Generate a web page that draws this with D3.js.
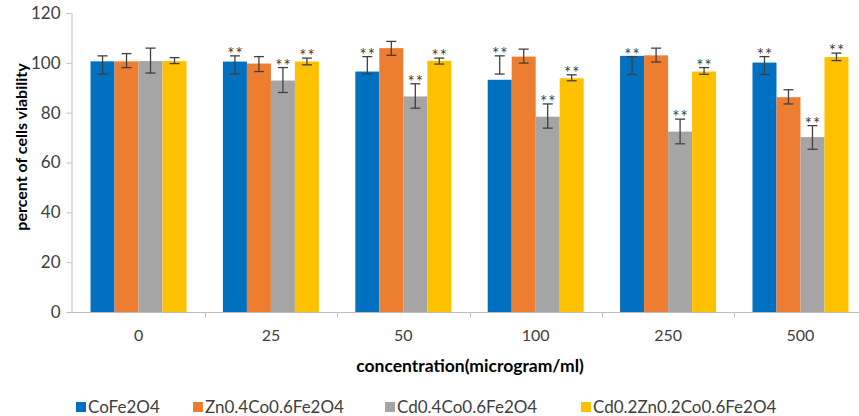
<!DOCTYPE html>
<html>
<head>
<meta charset="utf-8">
<script src="https://cdn.jsdelivr.net/npm/d3@7"></script>
<style>
  html, body { margin: 0; padding: 0; background: #fff; }
  svg { display: block; font-family: Lato, "Open Sans", sans-serif; }
</style>
</head>
<body>
<svg id="chart" width="859" height="416"></svg>
<script>
// ---- data ----
const categories = ["0", "25", "50", "100", "250", "500"];
const seriesNames = ["CoFe2O4", "Zn0.4Co0.6Fe2O4", "Cd0.4Co0.6Fe2O4", "Cd0.2Zn0.2Co0.6Fe2O4"];
const seriesColors = ["#0070C0", "#ED7D31", "#A5A5A5", "#FFC000"];

const coFeValues   = [100.6, 100.5, 96.5, 93.2, 102.8, 100.1];
const znValues     = [100.6, 99.7, 105.9, 102.5, 103.0, 86.2];
const cdValues     = [100.7, 92.9, 86.5, 78.4, 72.4, 70.2];
const cdZnValues   = [100.7, 100.5, 100.8, 93.8, 96.5, 102.3];

// error bar ends (upper / lower)
const coFeErrHigh  = [102.8, 102.8, 102.5, 102.8, 102.5, 102.5];
const coFeErrLow   = [95.5, 95.5, 95.5, 95.5, 95.3, 95.3];
const znErrHigh    = [103.7, 102.5, 108.6, 105.5, 105.9, 89.2];
const znErrLow     = [98.1, 96.5, 103.0, 99.9, 100.3, 83.5];
const cdErrHigh    = [105.9, 98.1, 91.6, 83.5, 77.4, 74.8];
const cdErrLow     = [95.9, 88.1, 81.8, 73.8, 67.5, 65.3];
const cdZnErrHigh  = [102.1, 101.9, 101.9, 95.2, 98.1, 103.9];
const cdZnErrLow   = [99.7, 99.2, 99.5, 92.8, 95.4, 100.9];

// significance markers
const coFeSig = ["", "**", "**", "**", "**", "**"];
const znSig   = ["", "", "", "", "", ""];
const cdSig   = ["", "**", "**", "**", "**", "**"];
const cdZnSig = ["", "**", "**", "**", "**", "**"];

const yTicks = [0, 20, 40, 60, 80, 100, 120];
const xTitle = "concentration(microgram/ml)";
const yTitle = "percent of cells viability";

// ---- build table ----
const valuesBySeries = [coFeValues, znValues, cdValues, cdZnValues];
const highBySeries = [coFeErrHigh, znErrHigh, cdErrHigh, cdZnErrHigh];
const lowBySeries = [coFeErrLow, znErrLow, cdErrLow, cdZnErrLow];
const sigBySeries = [coFeSig, znSig, cdSig, cdZnSig];

const records = [];
categories.forEach((c, ci) => {
  seriesNames.forEach((s, si) => {
    records.push({
      cat: c, series: s, si,
      value: valuesBySeries[si][ci],
      high: highBySeries[si][ci],
      low: lowBySeries[si][ci],
      sig: sigBySeries[si][ci]
    });
  });
});

// ---- scales ----
const svg = d3.select("#chart");
const axisColor = "#BFBFBF";
const textColor = "#404040";

const y = d3.scaleLinear().domain([0, 120]).range([312, 13]);
const x0 = d3.scaleBand().domain(categories).range([72, 867])
  .paddingInner(0.275).paddingOuter(0.14);
const x1 = d3.scaleBand().domain(seriesNames).range([0, x0.bandwidth()]);
const color = d3.scaleOrdinal().domain(seriesNames).range(seriesColors);

// ---- y axis ----
const yAxis = svg.append("g")
  .attr("transform", "translate(71.5,0)")
  .call(d3.axisLeft(y).tickValues(yTicks).tickSizeInner(5).tickSizeOuter(0).tickPadding(6));
yAxis.select(".domain").attr("stroke", axisColor);
yAxis.selectAll(".tick line").attr("stroke", axisColor);
yAxis.selectAll(".tick text").attr("fill", textColor)
  .style("font-size", "17px").style("font-family", "Lato, sans-serif");

// ---- x axis ----
const xAxis = svg.append("g")
  .attr("transform", "translate(0,312.5)")
  .call(d3.axisBottom(x0).tickSize(0).tickPadding(17));
xAxis.select(".domain").remove();
xAxis.selectAll(".tick text").attr("fill", textColor)
  .style("font-size", "16px").style("font-family", "Lato, sans-serif");
xAxis.append("line")
  .attr("x1", 66.5).attr("x2", 859).attr("y1", 0).attr("y2", 0)
  .attr("stroke", axisColor);
// category separator ticks
const step = x0.step();
const halfGap = step * x0.paddingInner() / 2;
categories.slice(1).forEach(c => {
  const bx = Math.round(x0(c) - halfGap) + 0.5;
  xAxis.append("line")
    .attr("x1", bx).attr("x2", bx).attr("y1", 0).attr("y2", 5)
    .attr("stroke", axisColor);
});

// ---- bars ----
const groups = svg.append("g");
groups.selectAll("rect")
  .data(records)
  .join("rect")
  .attr("x", d => x0(d.cat) + x1(d.series))
  .attr("width", x1.bandwidth())
  .attr("y", d => y(d.value))
  .attr("height", d => y(0) - y(d.value))
  .attr("fill", d => color(d.series));

// ---- error bars ----
const errG = svg.append("g").attr("stroke", "#404040").attr("stroke-width", 1.3);
records.forEach(d => {
  const cx = x0(d.cat) + x1(d.series) + x1.bandwidth() / 2;
  errG.append("line").attr("x1", cx).attr("x2", cx)
    .attr("y1", y(d.high)).attr("y2", y(d.low));
  errG.append("line").attr("x1", cx - 5).attr("x2", cx + 5)
    .attr("y1", y(d.high)).attr("y2", y(d.high));
  errG.append("line").attr("x1", cx - 5).attr("x2", cx + 5)
    .attr("y1", y(d.low)).attr("y2", y(d.low));
});

// ---- significance stars ----
svg.append("g").selectAll("text")
  .data(records.filter(d => d.sig))
  .join("text")
  .attr("x", d => x0(d.cat) + x1(d.series) + x1.bandwidth() / 2 + 0.5)
  .attr("y", d => y(d.high) + 4)
  .attr("text-anchor", "middle")
  .attr("fill", "#404040")
  .style("font-size", "17px")
  .style("letter-spacing", "1px")
  .text(d => d.sig);

// ---- axis titles ----
svg.append("text")
  .attr("x", 470).attr("y", 372)
  .attr("text-anchor", "middle")
  .attr("fill", "#000")
  .style("font-size", "17.5px").style("font-weight", "bold")
  .text(xTitle);

svg.append("text")
  .attr("transform", "translate(27,147) rotate(-90)")
  .attr("text-anchor", "middle")
  .attr("fill", "#000")
  .style("font-size", "16px").style("font-weight", "bold")
  .text(yTitle);

// ---- legend ----
const legendX = [76, 193, 385, 581];
const legend = svg.append("g");
seriesNames.forEach((s, i) => {
  const g = legend.append("g").attr("transform", `translate(${legendX[i]},402)`);
  g.append("rect").attr("width", 10).attr("height", 10).attr("fill", color(s));
  g.append("text").attr("x", 12).attr("y", 11)
    .attr("fill", textColor)
    .style("font-size", "17px")
    .text(s);
});
</script>
</body>
</html>
